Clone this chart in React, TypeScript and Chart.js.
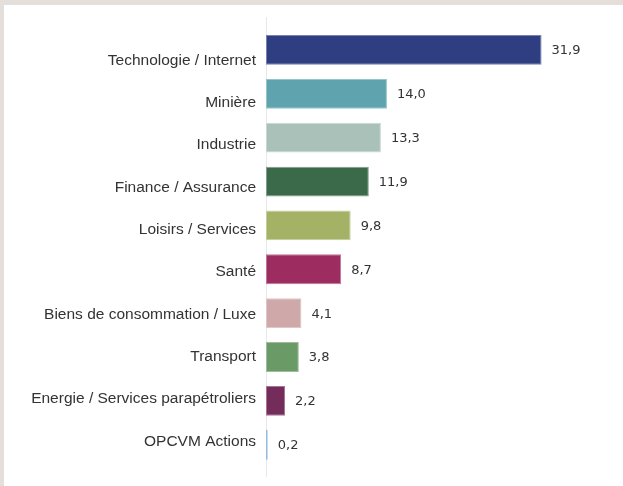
import React, { useEffect, useRef } from "react";
import { Chart, registerables } from "chart.js";

Chart.register(...registerables);

const categories = [
  "Technologie / Internet",
  "Minière",
  "Industrie",
  "Finance / Assurance",
  "Loisirs / Services",
  "Santé",
  "Biens de consommation / Luxe",
  "Transport",
  "Energie / Services parapétroliers",
  "OPCVM Actions",
];

const values = [31.9, 14.0, 13.3, 11.9, 9.8, 8.7, 4.1, 3.8, 2.2, 0.2];

const barColors = [
  "#2f3e80",
  "#5fa3ae",
  "#aac1b9",
  "#3b6a4b",
  "#a4b266",
  "#9d2c60",
  "#cfa9a9",
  "#6a9a66",
  "#742d5b",
  "#5b98cc",
];

function lighten(hex: string, t: number): string {
  const n = parseInt(hex.slice(1), 16);
  const r = (n >> 16) & 255;
  const g = (n >> 8) & 255;
  const b = n & 255;
  const m = (c: number) => Math.round(c + (255 - c) * t);
  return `rgb(${m(r)},${m(g)},${m(b)})`;
}

const fmt = (v: number) => v.toFixed(1).replace(".", ",");

const axisLinePlugin = {
  id: "axisLine",
  beforeDatasetsDraw(chart: any) {
    const { ctx, chartArea, scales } = chart;
    const x = Math.round(scales.x.getPixelForValue(0)) + 0.5;
    ctx.save();
    ctx.strokeStyle = "#e8e8e8";
    ctx.lineWidth = 1;
    ctx.beginPath();
    ctx.moveTo(x, chartArea.top - 11);
    ctx.lineTo(x, chartArea.bottom + 10);
    ctx.stroke();
    ctx.restore();
  },
};

const valueLabelPlugin = {
  id: "valueLabels",
  afterDatasetsDraw(chart: any) {
    const { ctx } = chart;
    const meta = chart.getDatasetMeta(0);
    ctx.save();
    ctx.font = '13px "DejaVu Sans"';
    ctx.fillStyle = "#333333";
    ctx.textAlign = "left";
    ctx.textBaseline = "middle";
    meta.data.forEach((bar: any, i: number) => {
      ctx.fillText(fmt(values[i]), bar.x + 10, bar.y + 1);
    });
    ctx.restore();
  },
};

export default function App() {
  const ref = useRef<HTMLCanvasElement | null>(null);

  useEffect(() => {
    if (!ref.current) return;
    const chart = new Chart(ref.current, {
      type: "bar",
      data: {
        labels: categories,
        datasets: [
          {
            data: values,
            backgroundColor: barColors,
            borderColor: barColors.map((c) => lighten(c, 0.35)),
            borderWidth: 1,
            borderSkipped: false,
            barPercentage: 0.68,
            categoryPercentage: 1,
            yAxisID: "y",
          },
        ],
      },
      options: {
        indexAxis: "y",
        animation: false,
        responsive: true,
        maintainAspectRatio: false,
        layout: { padding: { top: 23, bottom: 18, left: 0, right: 46 } },
        plugins: {
          legend: { display: false },
          tooltip: { enabled: false },
        },
        scales: {
          x: {
            type: "linear",
            display: false,
            min: 0,
            max: 36,
          },
          y: {
            type: "category",
            display: false,
          },
          y2: {
            type: "linear",
            position: "left",
            reverse: true,
            offset: false,
            min: -0.766,
            max: 9.601,
            bounds: "data",
            grid: { display: false, drawTicks: false, offset: false },
            border: { display: false },
            afterBuildTicks: (scale: any) => {
              scale.ticks = categories.map((_, i) => ({ value: i }));
            },
            afterFit: (scale: any) => {
              scale.width = 262;
            },
            ticks: {
              autoSkip: false,
              padding: 10,
              color: "#333333",
              font: { family: '"Liberation Sans", Arial, sans-serif', size: 15.5 },
              callback: (v: any) => categories[Number(v)] ?? "",
            },
          },
        },
      },
      plugins: [axisLinePlugin, valueLabelPlugin],
    });
    return () => chart.destroy();
  }, []);

  return (
    <div style={{ position: "fixed", left: 0, top: 0, width: 623, height: 486, background: "#e4dfdb" }}>
      <div style={{ position: "absolute", left: 4, top: 5, width: 619, height: 481, background: "#ffffff" }}>
        <canvas ref={ref} />
      </div>
    </div>
  );
}
